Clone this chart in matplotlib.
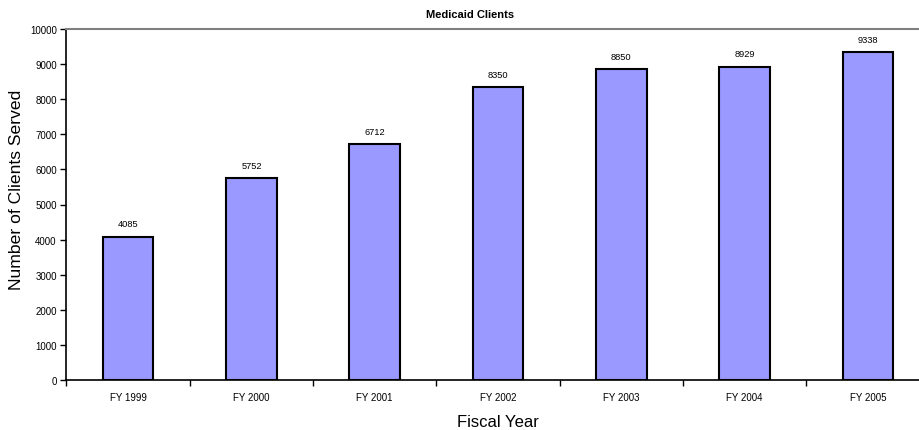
import numpy as np
import matplotlib.pyplot as plt

# chart data
years = ['FY 1999', 'FY 2000', 'FY 2001', 'FY 2002', 'FY 2003', 'FY 2004', 'FY 2005']
clients = [4085, 5752, 6712, 8350, 8850, 8929, 9338]
y_ticks = [0, 1000, 2000, 3000, 4000, 5000, 6000, 7000, 8000, 9000, 10000]

plt.rcParams['font.family'] = ['Liberation Sans', 'DejaVu Sans']

fig = plt.figure(figsize=(9.2, 4.31), dpi=100)
# plot area runs slightly past the right edge, as in the original
ax = fig.add_axes([66.5 / 920, 50 / 431, 863 / 920, 351 / 431])

x = np.arange(len(years))
ax.bar(x, clients, width=0.41, color='#9999FF', edgecolor='black', linewidth=1.5)

for xi, v in zip(x, clients):
    ax.annotate(str(v), (xi, v), xytext=(0, 6), textcoords='offset points',
                ha='center', va='bottom', fontsize=6.7)

ax.set_xlim(-0.5, len(years) - 0.5)
ax.set_ylim(0, 10000)
ax.set_yticks(y_ticks)
ax.set_yticklabels([str(t) for t in y_ticks], fontsize=7)
ax.tick_params(axis='y', direction='out', length=4, width=1, pad=3)

ax.set_xticks(x)
ax.set_xticklabels(years, fontsize=7)
ax.set_xticks(np.arange(len(years) + 1) - 0.5, minor=True)
ax.tick_params(axis='x', which='major', length=0, pad=9)
ax.tick_params(axis='x', which='minor', direction='out', length=4, width=1)

ax.spines['left'].set_linewidth(1.2)
ax.spines['bottom'].set_linewidth(1.2)
ax.spines['top'].set_color('#808080')
ax.spines['top'].set_linewidth(1.5)
ax.spines['right'].set_visible(False)

fig.text(470 / 920, 1 - 15 / 431, 'Medicaid Clients', fontsize=8, fontweight='bold',
         ha='center', va='center')
ax.set_xlabel('Fiscal Year', fontsize=12, labelpad=8)
fig.text(17 / 920, 1 - 190 / 431, 'Number of Clients Served', fontsize=12.6,
         rotation=90, ha='center', va='center')

fig.savefig('out.png', dpi=100)
